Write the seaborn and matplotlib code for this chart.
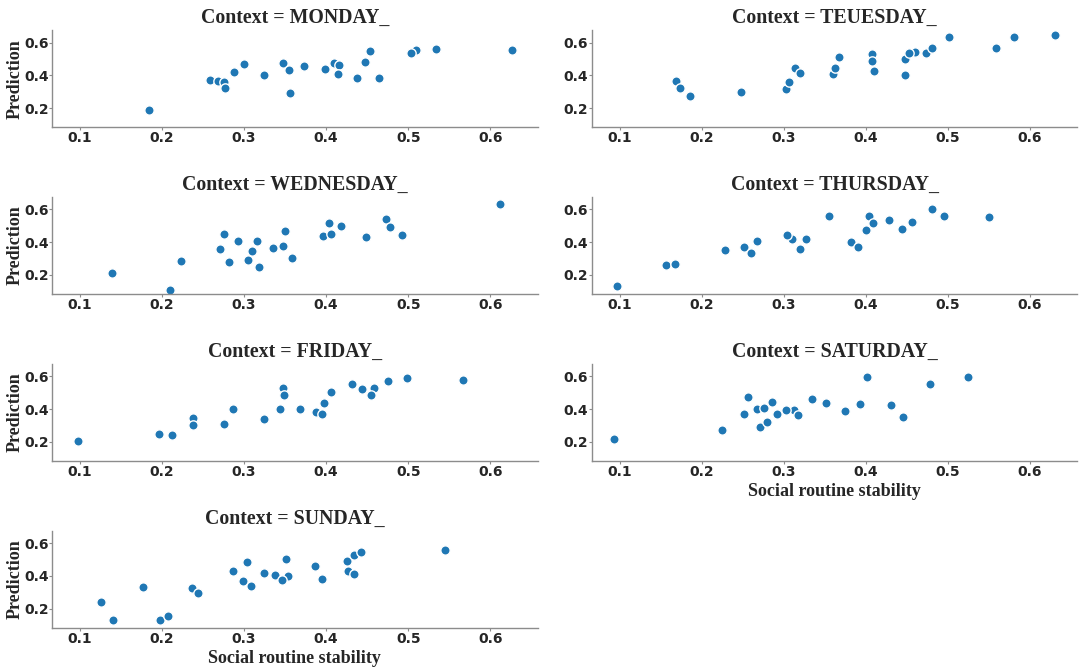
import numpy as np
import pandas as pd
import matplotlib
matplotlib.use("Agg")
import matplotlib.pyplot as plt
import seaborn as sns

days = ["MONDAY_", "TEUESDAY_", "WEDNESDAY_", "THURSDAY_", "FRIDAY_", "SATURDAY_", "SUNDAY_"]

mon_x = [0.184, 0.259, 0.268, 0.276, 0.277, 0.288, 0.300, 0.324, 0.347, 0.355, 0.356, 0.373,
         0.399, 0.409, 0.416, 0.415, 0.438, 0.447, 0.454, 0.465, 0.509, 0.504, 0.534, 0.626]
mon_y = [0.188, 0.369, 0.364, 0.358, 0.324, 0.421, 0.468, 0.403, 0.474, 0.433, 0.293, 0.458,
         0.438, 0.476, 0.466, 0.411, 0.383, 0.484, 0.551, 0.383, 0.553, 0.537, 0.559, 0.553]

tue_x = [0.169, 0.174, 0.186, 0.248, 0.303, 0.307, 0.314, 0.320, 0.360, 0.362, 0.368, 0.408,
         0.408, 0.410, 0.448, 0.448, 0.460, 0.453, 0.473, 0.481, 0.501, 0.559, 0.581, 0.631]
tue_y = [0.367, 0.320, 0.275, 0.299, 0.314, 0.362, 0.442, 0.415, 0.411, 0.444, 0.509, 0.531,
         0.488, 0.429, 0.498, 0.399, 0.543, 0.537, 0.535, 0.567, 0.637, 0.568, 0.633, 0.649]

wed_x = [0.139, 0.210, 0.223, 0.271, 0.275, 0.282, 0.293, 0.305, 0.310, 0.316, 0.318, 0.335,
         0.348, 0.350, 0.358, 0.396, 0.404, 0.406, 0.418, 0.449, 0.473, 0.478, 0.493, 0.612]
wed_y = [0.212, 0.110, 0.286, 0.357, 0.451, 0.278, 0.408, 0.294, 0.345, 0.408, 0.251, 0.363,
         0.375, 0.469, 0.302, 0.439, 0.516, 0.453, 0.498, 0.429, 0.539, 0.490, 0.441, 0.631]

thu_x = [0.097, 0.157, 0.167, 0.228, 0.252, 0.260, 0.268, 0.310, 0.304, 0.320, 0.327, 0.355,
         0.382, 0.390, 0.400, 0.404, 0.409, 0.428, 0.444, 0.456, 0.481, 0.495, 0.550]
thu_y = [0.135, 0.259, 0.265, 0.352, 0.369, 0.334, 0.405, 0.417, 0.444, 0.360, 0.417, 0.557,
         0.401, 0.369, 0.476, 0.557, 0.515, 0.535, 0.482, 0.523, 0.604, 0.559, 0.553]

fri_x = [0.098, 0.196, 0.212, 0.238, 0.238, 0.276, 0.286, 0.324, 0.344, 0.348, 0.349, 0.368,
         0.388, 0.395, 0.397, 0.406, 0.431, 0.444, 0.458, 0.455, 0.476, 0.498, 0.567]
fri_y = [0.202, 0.245, 0.243, 0.346, 0.302, 0.306, 0.401, 0.340, 0.399, 0.527, 0.486, 0.399,
         0.381, 0.371, 0.436, 0.507, 0.551, 0.523, 0.527, 0.486, 0.570, 0.588, 0.576]

sat_x = [0.093, 0.225, 0.252, 0.256, 0.268, 0.271, 0.276, 0.280, 0.286, 0.292, 0.313, 0.303,
         0.317, 0.335, 0.352, 0.375, 0.393, 0.402, 0.431, 0.446, 0.478, 0.525]
sat_y = [0.218, 0.269, 0.371, 0.474, 0.399, 0.289, 0.409, 0.318, 0.444, 0.371, 0.395, 0.395,
         0.366, 0.464, 0.434, 0.389, 0.431, 0.598, 0.425, 0.350, 0.553, 0.594]

sun_x = [0.126, 0.140, 0.177, 0.197, 0.207, 0.237, 0.244, 0.286, 0.299, 0.303, 0.309, 0.324,
         0.338, 0.353, 0.346, 0.351, 0.387, 0.395, 0.425, 0.427, 0.434, 0.434, 0.442, 0.545]
sun_y = [0.239, 0.129, 0.332, 0.129, 0.153, 0.326, 0.293, 0.431, 0.366, 0.486, 0.340, 0.419,
         0.403, 0.397, 0.377, 0.505, 0.460, 0.379, 0.492, 0.433, 0.411, 0.525, 0.549, 0.561]

xs = [mon_x, tue_x, wed_x, thu_x, fri_x, sat_x, sun_x]
ys = [mon_y, tue_y, wed_y, thu_y, fri_y, sat_y, sun_y]

frames = []
for d, x, y in zip(days, xs, ys):
    frames.append(pd.DataFrame({"Context": d, "Social routine stability": x, "Prediction": y}))
df = pd.concat(frames, ignore_index=True)

sns.set_style("white", {"axes.edgecolor": "#8c8c8c", "xtick.bottom": True, "ytick.left": True,
                        "xtick.color": "#8c8c8c", "ytick.color": "#8c8c8c"})

g = sns.relplot(data=df, x="Social routine stability", y="Prediction", col="Context",
                col_order=days, col_wrap=2, height=1.4, aspect=4.9, kind="scatter",
                color="#1f77b4", edgecolor="white", linewidth=1.0, s=45)

fig = g.figure
fig.set_size_inches(10.85, 6.70)
fig.subplots_adjust(left=0.048, right=0.993, top=0.955, bottom=0.063, hspace=0.72, wspace=0.111)

serif = ["Liberation Serif", "DejaVu Serif"]

for ax, d in zip(g.axes.flat, days):
    ax.set_title(f"Context = {d}", fontfamily=serif, fontweight="bold", fontsize=14.3, pad=5)
    ax.tick_params(labelbottom=True, labelleft=True, length=2, width=0.8, pad=1,
                   labelcolor="#262626")
    ax.tick_params(axis="y", pad=0.5)
    ax.set_xticks([0.1, 0.2, 0.3, 0.4, 0.5, 0.6])
    ax.set_yticks([0.2, 0.4, 0.6])
    for lab in ax.get_xticklabels() + ax.get_yticklabels():
        lab.set_fontweight("bold")
        lab.set_fontsize(10)
    for sp in ["left", "bottom"]:
        ax.spines[sp].set_linewidth(1.0)
    if ax.get_ylabel():
        ax.set_ylabel(ax.get_ylabel(), fontfamily=serif, fontweight="bold", fontsize=13, labelpad=0.5)
    if ax.get_xlabel():
        ax.set_xlabel(ax.get_xlabel(), fontfamily=serif, fontweight="bold", fontsize=13, labelpad=3)

fig.savefig("out.png", dpi=100)
